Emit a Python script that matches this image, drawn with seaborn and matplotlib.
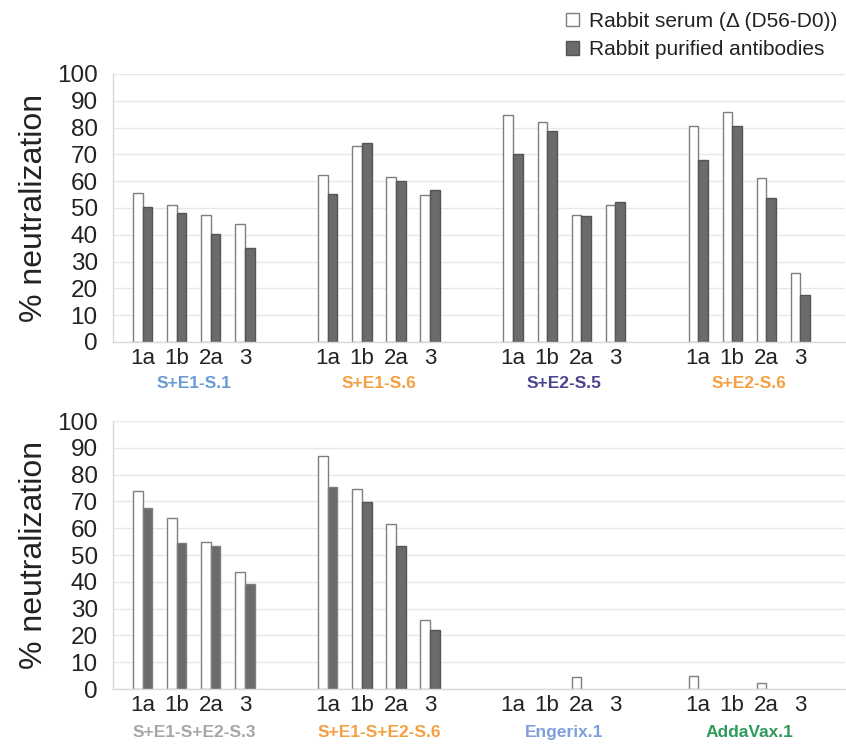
import numpy as np
import pandas as pd
import seaborn as sns
import matplotlib
matplotlib.use('Agg')
import matplotlib.pyplot as plt
from matplotlib.patches import Patch

# Values (% neutralization).
categories = ["1a", "1b", "2a", "3"]
series = ["Rabbit serum (\u0394 (D56-D0))", "Rabbit purified antibodies"]

top_groups = ["S+E1-S.1", "S+E1-S.6", "S+E2-S.5", "S+E2-S.6"]
top_colors = ["#6b9bd2", "#f4a042", "#4b4590", "#f4a042"]
top_serum = [[55.7, 51.1, 47.4, 43.9],
             [62.5, 73.1, 61.7, 54.9],
             [84.8, 82.0, 47.4, 51.1],
             [80.5, 85.8, 61.1, 25.7]]
top_antibodies = [[50.2, 48.0, 40.3, 34.9],
                  [55.2, 74.3, 60.2, 56.7],
                  [70.2, 78.6, 46.9, 52.4],
                  [67.8, 80.7, 53.6, 17.6]]

bottom_groups = ["S+E1-S+E2-S.3", "S+E1-S+E2-S.6", "Engerix.1", "AddaVax.1"]
bottom_colors = ["#a6a6a6", "#f4a042", "#7e9fd9", "#2e9a5c"]
bottom_serum = [[73.9, 63.7, 54.7, 43.8],
                [87.1, 74.8, 61.7, 25.6],
                [np.nan, np.nan, 4.6, np.nan],
                [4.9, np.nan, 2.1, np.nan]]
bottom_antibodies = [[67.4, 54.6, 53.5, 39.3],
                     [75.2, 69.8, 53.5, 21.9],
                     [np.nan, np.nan, np.nan, np.nan],
                     [np.nan, np.nan, np.nan, np.nan]]

GROUP_STEP = 5.44
fill_colors = ["white", "#6b6b6b"]
edge_colors = ["#7f7f7f", "#555555"]


def make_frame(groups, serum, antibodies):
    rows = []
    for g, group in enumerate(groups):
        for c, cat in enumerate(categories):
            pos = g * GROUP_STEP + c
            rows.append((group, cat, pos, series[0], serum[g][c]))
            rows.append((group, cat, pos, series[1], antibodies[g][c]))
    return pd.DataFrame(rows, columns=["group", "category", "pos", "sample", "value"])


def draw_panel(ax, groups, colors, serum, antibodies, label_y):
    df = make_frame(groups, serum, antibodies)
    sns.barplot(data=df, x="pos", y="value", hue="sample", hue_order=series,
                native_scale=True, width=0.56, palette=fill_colors,
                errorbar=None, legend=False, linewidth=1.0, ax=ax)

    # edge colour per series
    n = len(groups) * len(categories)
    for i, bar in enumerate(ax.patches):
        bar.set_edgecolor(edge_colors[i // n])

    ax.set_xlim(-0.88, 3 * GROUP_STEP + 3 + 1.32)
    ax.set_ylim(0, 100)
    ax.set_yticks(range(0, 101, 10))
    ax.tick_params(axis='y', length=0, labelsize=17.5, pad=11, labelcolor="#222222")

    positions = [g * GROUP_STEP + c for g in range(len(groups)) for c in range(len(categories))]
    ax.set_xticks(positions, categories * len(groups))
    ax.tick_params(axis='x', which='major', length=0, labelsize=16, pad=4, labelcolor="#222222")

    bounds = [ax.get_xlim()[0]] + [g * GROUP_STEP + 3 + (GROUP_STEP - 3) / 2 for g in range(3)] + [ax.get_xlim()[1]]
    ax.set_xticks(bounds, minor=True)
    ax.tick_params(axis='x', which='minor', length=4, color="#d0d0d0", width=1)

    ax.grid(axis='y', color="#e8e8e8", linewidth=1)
    ax.grid(axis='x', visible=False)
    ax.set_axisbelow(True)
    for side in ["top", "right"]:
        ax.spines[side].set_visible(False)
    for side in ["left", "bottom"]:
        ax.spines[side].set_color("#d9d9d9")
        ax.spines[side].set_linewidth(1)

    ax.set_xlabel("")
    ax.set_ylabel("% neutralization", fontsize=23, color="#222222")
    ax.yaxis.set_label_coords(-0.088, 0.5)

    trans = matplotlib.transforms.blended_transform_factory(ax.transData, ax.transAxes)
    for g, (group, color) in enumerate(zip(groups, colors)):
        ax.text(g * GROUP_STEP + 1.5, label_y, group, transform=trans, ha='center', va='center',
                fontsize=12.5, fontweight='bold', color=color)


sns.set_theme(style="white")
plt.rcParams['font.family'] = ['Liberation Sans', 'DejaVu Sans']

fig = plt.figure(figsize=(8.46, 7.45), dpi=100)
ax_top = fig.add_axes([113 / 846, 1 - 342 / 745, 732 / 846, 268 / 745])
ax_bottom = fig.add_axes([113 / 846, 1 - 689 / 745, 732 / 846, 268 / 745])

draw_panel(ax_top, top_groups, top_colors, top_serum, top_antibodies, -0.153)
draw_panel(ax_bottom, bottom_groups, bottom_colors, bottom_serum, bottom_antibodies, -0.164)

handles = [Patch(facecolor=fill_colors[i], edgecolor=edge_colors[i], linewidth=1.0) for i in range(2)]
fig.legend(handles, series, loc='upper left', bbox_to_anchor=(566 / 846, 1 - 12 / 745),
           frameon=False, fontsize=15, handlelength=0.62, handleheight=0.62,
           handletextpad=0.5, labelspacing=0.45, borderpad=0, borderaxespad=0,
           labelcolor="#222222")

fig.savefig("out.png", dpi=100)
plt.close()
